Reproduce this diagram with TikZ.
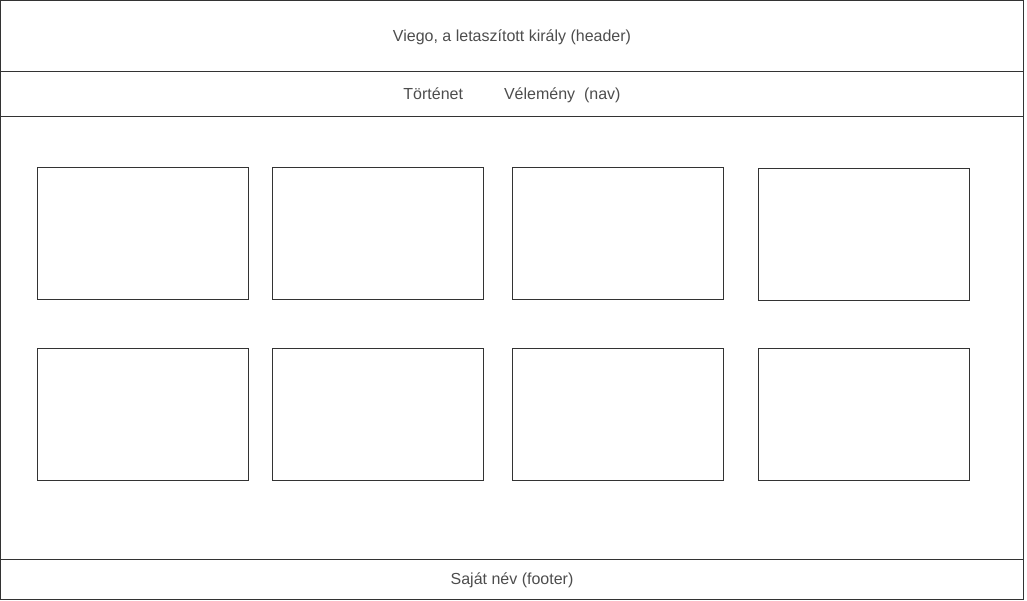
\documentclass[tikz,border=0pt]{standalone}
\usepackage{fontspec}
\setmainfont{Liberation Sans}
\usetikzlibrary{positioning}
\definecolor{linegray}{HTML}{333333}
\definecolor{textgray}{HTML}{4D4D4D}
\tikzstyle{panel}=[rectangle, draw=linegray, line width=1pt, inner sep=0pt, outer sep=0pt, anchor=north west, minimum width=1023pt, text=textgray, font=\fontsize{16}{19}\selectfont]
\tikzstyle{card}=[rectangle, draw=linegray, line width=0.8pt, inner sep=0pt, outer sep=0pt, anchor=north west, minimum width=211pt, minimum height=132pt]
\newcommand{\card}{\node[card]}
\newcommand{\lowered}[1]{\raisebox{-1.2pt}[\height][\depth]{#1}}

\begin{document}
\begin{tikzpicture}[x=1pt,y=-1pt]
	\useasboundingbox (0,0) rectangle (1027,601);
	%% the page parts
	\node[panel, minimum height=71pt] (header) at (0.5,0.5) {\lowered{Viego, a letaszított király (header)}};
	\node[panel, minimum height=45pt] (nav) at (0.5,71.5) {\lowered{Történet\hspace{41pt}Vélemény\ \ (nav)}};
	\node[panel, minimum height=443pt] (main) at (0.5,116.5) {};
	\node[panel, minimum height=40pt] (footer) at (0.5,559.5) {\lowered{Saját név (footer)}};
	%% the cards
	\card (c1) at (37.5,167.5) {};
	\card (c2) at (272.5,167.5) {};
	\card (c3) at (512.5,167.5) {};
	\card (c4) at (758.5,168.5) {};
	\card (c5) at (37.5,348.5) {};
	\card (c6) at (272.5,348.5) {};
	\card (c7) at (512.5,348.5) {};
	\card (c8) at (758.5,348.5) {};
\end{tikzpicture}
\end{document}
